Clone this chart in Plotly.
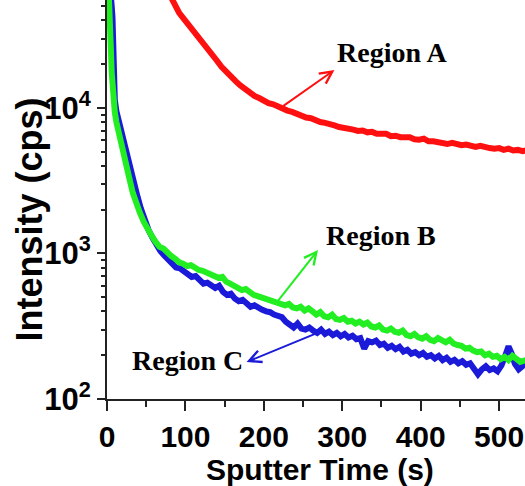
import plotly.graph_objects as go

# ---------------- data ----------------
time_a = [80, 86, 92, 98, 104, 110, 116, 122, 128, 134, 140, 146, 152, 158, 164, 170,
          176, 182, 188, 194, 200, 206, 212, 218, 224, 230, 236, 242, 248, 254, 260,
          266, 272, 278, 284, 290, 296, 302, 308, 314, 320, 326, 332, 338, 344, 350,
          356, 362, 368, 374, 380, 386, 392, 398, 404, 410, 416, 422, 428, 434, 440,
          446, 452, 458, 464, 470, 476, 482, 488, 494, 500, 506, 512, 518, 524, 530, 534]
cps_a = [60000, 50500, 45000, 41000, 37500, 34000, 31000, 28000, 25500, 23400, 21200,
         19200, 17600, 16400, 15300, 14300, 13400, 12800, 12100, 11700, 11200, 10800,
         10600, 10200, 10000, 9600, 9400, 9100, 8900, 8600, 8500, 8150, 8000, 7900, 7650,
         7600, 7400, 7350, 7150, 7100, 6950, 7000, 6800, 6850, 6650, 6600, 6650, 6400,
         6450, 6300, 6250, 6300, 6100, 6050, 6150, 5900, 5900, 5850, 5750, 5650, 5750,
         5600, 5550, 5600, 5450, 5400, 5500, 5350, 5300, 5250, 5300, 5150, 5250, 5100,
         5150, 5050, 5100]

time_b = [1, 3, 4, 5, 6, 7, 8, 10, 12, 15, 18, 21, 25, 29, 33, 37, 42, 47, 52, 57, 62,
          67, 72, 77, 82, 87, 92, 97, 102, 107, 112, 117, 122, 127, 132, 137, 142, 147,
          152, 157, 162, 167, 172, 177, 182, 187, 192, 197, 202, 207, 212, 217, 222, 227,
          232, 237, 242, 247, 252, 257, 262, 267, 272, 277, 282, 287, 292, 297, 302, 307,
          312, 317, 322, 327, 332, 337, 342, 347, 352, 357, 362, 367, 372, 377, 382, 387,
          392, 397, 402, 407, 412, 417, 422, 427, 432, 437, 442, 447, 452, 457, 462, 467,
          472, 477, 482, 487, 492, 497, 502, 507, 512, 517, 522, 527, 534]
cps_b = [90000, 58000, 38000, 25000, 17500, 13000, 11000, 9300, 8000, 6700, 5600, 4800,
         3900, 3200, 2600, 2200, 1900, 1650, 1450, 1320, 1200, 1110, 1080, 1000, 960, 920,
         870, 850, 820, 830, 790, 770, 760, 740, 735, 700, 680, 690, 640, 620, 600, 590,
         560, 570, 540, 520, 510, 500, 490, 480, 465, 457, 450, 440, 450, 425, 420, 430,
         405, 420, 400, 380, 395, 370, 365, 380, 355, 350, 360, 340, 345, 330, 340, 325,
         335, 315, 310, 320, 300, 295, 305, 290, 285, 295, 275, 270, 280, 265, 260, 270,
         255, 250, 262, 255, 245, 255, 240, 235, 232, 222, 225, 215, 210, 212, 200, 205,
         195, 198, 188, 195, 185, 198, 190, 180, 185]

time_c = [2, 5, 6, 7, 8, 9, 10, 12, 15, 19, 23, 27, 31, 35, 39, 43, 48, 53, 58, 63, 68,
          73, 78, 83, 88, 93, 98, 103, 108, 113, 118, 123, 128, 133, 138, 143, 148, 153,
          158, 163, 168, 173, 178, 183, 188, 193, 198, 203, 208, 213, 218, 223, 228, 233,
          238, 243, 248, 253, 258, 263, 268, 273, 278, 283, 288, 293, 298, 303, 308, 313,
          318, 323, 328, 333, 338, 343, 348, 353, 358, 363, 368, 373, 378, 383, 388, 393,
          398, 403, 408, 413, 418, 423, 428, 433, 438, 443, 448, 453, 458, 463, 468, 473,
          478, 483, 488, 493, 498, 503, 508, 512, 516, 520, 525, 530, 534]
cps_c = [90000, 65000, 50000, 42000, 25000, 15000, 11300, 9500, 8100, 6700, 5400, 4500,
         3800, 3100, 2450, 2050, 1700, 1450, 1280, 1130, 1040, 970, 900, 860, 800, 790,
         760, 720, 690, 700, 650, 620, 630, 600, 580, 600, 545, 520, 530, 490, 470, 480,
         450, 430, 440, 420, 410, 400, 395, 380, 375, 365, 340, 320, 310, 330, 305, 300,
         310, 295, 285, 300, 280, 290, 275, 285, 270, 280, 265, 272, 258, 262, 222, 250,
         245, 252, 235, 240, 225, 232, 220, 228, 212, 218, 205, 210, 200, 207, 195, 200,
         190, 198, 185, 192, 180, 186, 176, 182, 172, 176, 158, 148, 160, 168, 158, 162,
         155, 170, 200, 230, 205, 175, 160, 170, 175]

x_ticks = [0, 100, 200, 300, 400, 500]
y_ticks = [100, 1000, 10000]
y_tick_labels = ["10<sup>2</sup>", "10<sup>3</sup>", "10<sup>4</sup>"]
y_minor = [v * d for d in (100, 1000, 10000) for v in range(2, 10)]
x_title = "Sputter Time (s)"
y_title = "Intensity (cps)"

RED, GREEN, BLUE = "#ff1010", "#22ee22", "#1a1ad8"
SANS = "Liberation Sans"
SERIF = "Liberation Serif"

fig = go.Figure()
fig.add_trace(go.Scatter(x=time_a, y=cps_a, mode="lines",
                         line=dict(color=RED, width=6), showlegend=False))
fig.add_trace(go.Scatter(x=time_c, y=cps_c, mode="lines",
                         line=dict(color=BLUE, width=6), showlegend=False))
fig.add_trace(go.Scatter(x=time_b, y=cps_b, mode="lines",
                         line=dict(color=GREEN, width=6), showlegend=False))

# region labels and arrows: (text, text_x, text_logy, tail_x, tail_logy, head_x, head_logy, colour)
labels = [
    ("Region A", 363, 4.378, 223, 4.007, 290, 4.261, RED),
    ("Region B", 350, 3.127, 216, 2.660, 269, 3.024, GREEN),
    ("Region C", 103, 2.268, 268, 2.454, 178, 2.254, BLUE),
]
for text, tx, ty, ax, ay, hx, hy, col in labels:
    fig.add_annotation(x=tx, y=ty, xref="x", yref="y", text="<b>%s</b>" % text,
                       showarrow=False, font=dict(family=SERIF, size=28, color="black"))
    fig.add_annotation(x=hx, y=hy, ax=ax, ay=ay, xref="x", yref="y", axref="x", ayref="y",
                       text="", showarrow=True, arrowhead=5, arrowsize=1.2,
                       arrowwidth=2, arrowcolor=col, standoff=0, startstandoff=0)

# axis titles
fig.add_annotation(x=0.51, y=0, xref="paper", yref="paper", yanchor="middle",
                   xanchor="center", yshift=-70, showarrow=False,
                   text="<b>%s</b>" % x_title,
                   font=dict(family=SANS, size=30, color="black"))
fig.add_annotation(x=0, y=0.45, xref="paper", yref="paper", xanchor="center",
                   yanchor="middle", xshift=-78, textangle=-90, showarrow=False,
                   text="<b>%s</b>" % y_title,
                   font=dict(family=SANS, size=36, color="black"))

fig.update_xaxes(range=[0, 533], showline=True, linecolor="#222", linewidth=2,
                 ticks="outside", ticklen=10, tickwidth=2, tickcolor="#222",
                 tickvals=x_ticks, showgrid=False, zeroline=False, automargin=False,
                 ticklabelstandoff=0,
                 tickfont=dict(family=SANS, size=30, color="black", weight="bold"),
                 minor=dict(ticks="outside", ticklen=6, tickwidth=2, tickcolor="#222",
                            dtick=50, showgrid=False))
fig.update_yaxes(type="log", range=[2, 4.742], showline=True, linecolor="#222",
                 linewidth=2, ticks="outside", ticklen=8, tickwidth=2, tickcolor="#222",
                 tickvals=y_ticks, ticktext=y_tick_labels, showgrid=False, zeroline=False,
                 automargin=False, ticklabelstandoff=0,
                 tickfont=dict(family=SANS, size=31, color="black", weight="bold"),
                 minor=dict(ticks="outside", ticklen=4, tickwidth=1.5, tickcolor="#222",
                            tickvals=y_minor, showgrid=False))

fig.update_layout(width=525, height=486, margin=dict(l=107, r=0, t=0, b=87),
                  plot_bgcolor="white", paper_bgcolor="white")

fig.write_html("out.html", config={"displayModeBar": False},
               post_script="document.body.style.margin='0';")
